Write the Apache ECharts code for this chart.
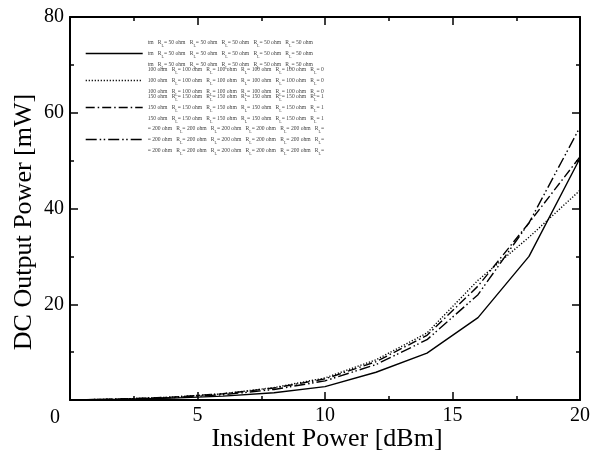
<!DOCTYPE html>
<html>
<head>
<meta charset="utf-8">
<script src="https://cdn.jsdelivr.net/npm/echarts@6/dist/echarts.min.js"></script>
<style>html,body{margin:0;padding:0;background:#fff}#c{width:593px;height:452px}</style>
</head>
<body>
<div id="c"></div>
<script>
const xValues = [0, 2, 4, 6, 8, 10, 12, 14, 16, 18, 20];
const seriesNames = ['50 ohm', '100 ohm', '150 ohm', '200 ohm'];
const r50  = [0, 0.15, 0.4, 0.8, 1.5, 2.8, 5.8, 9.8, 17.2, 30.0, 50.5];
const r100 = [0, 0.2, 0.6, 1.3, 2.6, 4.6, 8.4, 14.0, 25.0, 34.0, 43.8];
const r150 = [0, 0.2, 0.6, 1.3, 2.5, 4.4, 8.0, 13.5, 23.8, 37.0, 50.8];
const r200 = [0, 0.2, 0.5, 1.1, 2.2, 4.0, 7.4, 12.6, 22.0, 37.0, 57.0];
const xTicks = [0, 5, 10, 15, 20];
const yTicks = [0, 20, 40, 60, 80];
const legendRows = [
  ['tm   R{s|L}= 50 ohm   R{s|L}= 50 ohm   R{s|L}= 50 ohm   R{s|L}= 50 ohm   R{s|L}= 50 ohm',
   'tm   R{s|L}= 50 ohm   R{s|L}= 50 ohm   R{s|L}= 50 ohm   R{s|L}= 50 ohm   R{s|L}= 50 ohm',
   'tm   R{s|L}= 50 ohm   R{s|L}= 50 ohm   R{s|L}= 50 ohm   R{s|L}= 50 ohm   R{s|L}= 50 ohm'],
  ['100 ohm   R{s|L}= 100 ohm   R{s|L}= 100 ohm   R{s|L}= 100 ohm   R{s|L}= 100 ohm   R{s|L}= 0',
   '100 ohm   R{s|L}= 100 ohm   R{s|L}= 100 ohm   R{s|L}= 100 ohm   R{s|L}= 100 ohm   R{s|L}= 0',
   '100 ohm   R{s|L}= 100 ohm   R{s|L}= 100 ohm   R{s|L}= 100 ohm   R{s|L}= 100 ohm   R{s|L}= 0'],
  ['150 ohm   R{s|L}= 150 ohm   R{s|L}= 150 ohm   R{s|L}= 150 ohm   R{s|L}= 150 ohm   R{s|L}= 1',
   '150 ohm   R{s|L}= 150 ohm   R{s|L}= 150 ohm   R{s|L}= 150 ohm   R{s|L}= 150 ohm   R{s|L}= 1',
   '150 ohm   R{s|L}= 150 ohm   R{s|L}= 150 ohm   R{s|L}= 150 ohm   R{s|L}= 150 ohm   R{s|L}= 1'],
  ['= 200 ohm   R{s|L}= 200 ohm   R{s|L}= 200 ohm   R{s|L}= 200 ohm   R{s|L}= 200 ohm   R{s|L}=',
   '= 200 ohm   R{s|L}= 200 ohm   R{s|L}= 200 ohm   R{s|L}= 200 ohm   R{s|L}= 200 ohm   R{s|L}=',
   '= 200 ohm   R{s|L}= 200 ohm   R{s|L}= 200 ohm   R{s|L}= 200 ohm   R{s|L}= 200 ohm   R{s|L}=']
];
const dashTypes = ['solid', [1.2, 1.8], [9, 3, 1.5, 3], [11, 3, 1.5, 2.5, 1.5, 3]];
const legendTops = [32, 59, 86, 118];

const allData = [r50, r100, r150, r200];
const font = 'Liberation Serif';

const series = seriesNames.map((n, i) => ({
  name: n,
  type: 'line',
  symbol: 'none',
  showSymbol: false,
  xAxisIndex: 0, yAxisIndex: 0,
  data: xValues.map((x, j) => [x, allData[i][j]]),
  lineStyle: { color: '#000', width: 1.4, type: dashTypes[i] },
  itemStyle: { color: '#000' },
  emphasis: { disabled: true }
}));

const legends = seriesNames.map((n, i) => ({
  data: [n],
  left: 80,
  top: legendTops[i],
  orient: 'vertical',
  itemWidth: 57,
  itemHeight: 10,
  selectedMode: false,
  itemStyle: { opacity: 0 },
  lineStyle: { opacity: 1, color: '#000', width: 1.4, type: dashTypes[i] },
  formatter: () => legendRows[i].join('\n'),
  textStyle: { fontFamily: font, fontSize: 5.6, lineHeight: 11, color: '#444',
    rich: { s: { fontSize: 4, verticalAlign: 'bottom', color: '#444', fontFamily: font } } }
}));

const axisCommon = {
  type: 'value',
  axisLine: { show: true, onZero: false, lineStyle: { color: '#000', width: 2 } },
  axisTick: { show: true, inside: true, length: 8, lineStyle: { color: '#000', width: 1.5 } },
  minorTick: { show: true, splitNumber: 2, length: 4, lineStyle: { color: '#000', width: 1.5 } },
  splitLine: { show: false }
};

const option = {
  animation: false,
  grid: { left: 70, right: 10, top: 17, bottom: 52, containLabel: false },
  legend: legends,
  xAxis: [
    Object.assign({}, axisCommon, {
      min: xTicks[0], max: xTicks[xTicks.length - 1], interval: 5, position: 'bottom',
      axisLabel: { show: true, margin: 6, fontFamily: font, fontSize: 20, color: '#000',
        formatter: v => (v === 0 ? '' : String(v)) }
    }),
    Object.assign({}, axisCommon, {
      min: xTicks[0], max: xTicks[xTicks.length - 1], interval: 5, position: 'top',
      axisLabel: { show: false }
    })
  ],
  yAxis: [
    Object.assign({}, axisCommon, {
      min: yTicks[0], max: yTicks[yTicks.length - 1], interval: 20, position: 'left',
      axisLabel: { show: true, margin: 6, fontFamily: font, fontSize: 20, color: '#000',
        formatter: v => (v === 0 ? '' : String(v)) }
    }),
    Object.assign({}, axisCommon, {
      min: yTicks[0], max: yTicks[yTicks.length - 1], interval: 20, position: 'right',
      axisLabel: { show: false }
    })
  ],
  graphic: [
    { type: 'text', x: 55, y: 418, style: { text: '0', font: '20px "Liberation Serif"', fill: '#000', textAlign: 'center', textVerticalAlign: 'middle' } },
    { type: 'text', x: 327, y: 439, style: { text: 'Insident Power [dBm]', font: '26px "Liberation Serif"', fill: '#000', textAlign: 'center', textVerticalAlign: 'middle' } },
    { type: 'text', x: 24, y: 222, rotation: Math.PI / 2, style: { text: 'DC Output Power [mW]', font: '26px "Liberation Serif"', fill: '#000', textAlign: 'center', textVerticalAlign: 'middle' } }
  ],
  series: series
};

const chart = echarts.init(document.getElementById('c'), null, { renderer: 'canvas' });
chart.setOption(option);
</script>
</body>
</html>
